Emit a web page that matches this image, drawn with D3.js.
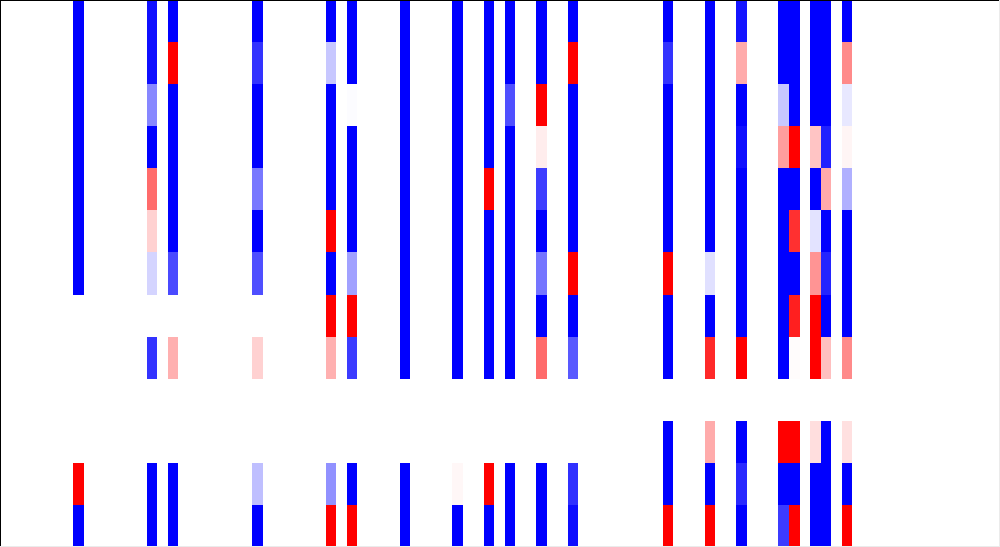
<!DOCTYPE html>
<html>
<head>
<meta charset="utf-8">
<script src="https://cdn.jsdelivr.net/npm/d3@7"></script>
<style>
  html, body { margin: 0; padding: 0; background: #fff; }
  svg { display: block; }
</style>
</head>
<body>
<svg id="chart" width="1000" height="547"></svg>
<script>
// Grid dimensions: 95 columns, 13 rows
const nCols = 95;
const nRows = 13;
// Column indices that hold data
const columnIndex = [7, 14, 16, 24, 31, 33, 38, 43, 46, 48, 51, 54, 63, 67, 70, 74, 75, 77, 78, 80];
const N = null;
// Row values (-1 = blue, 0 = white, 1 = red), one entry per data column
const r00 = [-1, -0.94, -1, -1, -1, -1, -1, -1, -1, -1, -1, -1, -1, -1, -0.92, -1, -1, -1, -1, -1];
const r01 = [-1, -0.94, 1, -0.8, -0.22, -1, -1, -1, -1, -1, -1, 1, -0.8, -1, 0.33, -1, -1, -1, -1, 0.46];
const r02 = [-1, -0.47, -1, -1, -1, -0.01, -1, -1, -1, -0.69, 1, -1, -1, -1, -1, -0.22, -1, -1, -1, -0.09];
const r03 = [-1, -1, -1, -1, -1, -1, -1, -1, -1, -1, 0.07, -1, -1, -1, -0.94, 0.38, 1, 0.23, -0.87, 0.04];
const r04 = [-1, 0.58, -1, -0.53, -1, -1, -1, -1, 1, -1, -0.76, -1, -1, -1, -1, -1, -1, -1, 0.33, -0.31];
const r05 = [-1, 0.18, -1, -1, 1, -1, -1, -1, -1, -1, -1, -1, -1, -1, -1, -1, 0.81, -0.11, -1, -1];
const r06 = [-1, -0.17, -0.71, -0.69, -1, -0.37, -1, -1, -1, -1, -0.54, 1, 1, -0.12, -1, -1, -1, 0.42, -0.86, -1];
const r07 = [N, N, N, N, 1, 1, -1, -1, -1, -1, -1, -1, -1, -1, -1, -1, 0.88, 1, -1, -1];
const r08 = [N, -0.8, 0.31, 0.18, 0.31, -0.77, -1, -1, -1, -1, 0.58, -0.65, -1, 0.84, 1, -1, 0.01, 1, 0.25, 0.46];
const r09 = [N, N, N, N, N, N, N, N, N, N, N, N, N, N, N, N, N, N, N, N];
const r10 = [N, N, N, N, N, N, N, N, N, N, N, N, -1, 0.33, -1, 1, 1, 0.13, -1, 0.12];
const r11 = [1, -1, -1, -0.25, -0.43, -1, -1, 0.03, 1, -1, -1, -0.81, -1, -1, -0.84, -1, -1, -1, -1, -1];
const r12 = [-1, -1, -1, -1, 1, 1, -1, -1, -1, -1, -1, -0.95, 1, 1, -1, -0.77, 1, -1, -1, 1];

const rowsData = [r00, r01, r02, r03, r04, r05, r06, r07, r08, r09, r10, r11, r12];

const cells = [];
rowsData.forEach((row, ri) => {
  row.forEach((v, ci) => {
    if (v !== null) cells.push({ row: ri, col: columnIndex[ci], value: v });
  });
});

const W = 1000, H = 547;
const svg = d3.select("#chart");

const x = d3.scaleLinear().domain([0, nCols]).range([0, W]);
const y = d3.scaleLinear().domain([0, nRows]).range([0, H]);
const color = d3.scaleLinear()
  .domain([-1, 0, 1])
  .range(["#0000ff", "#ffffff", "#ff0000"])
  .clamp(true);

svg.append("g")
  .selectAll("rect")
  .data(cells)
  .join("rect")
  .attr("x", d => Math.floor(x(d.col)))
  .attr("y", d => Math.round(y(d.row)))
  .attr("width", d => Math.floor(x(d.col + 1)) - Math.floor(x(d.col)))
  .attr("height", d => Math.round(y(d.row + 1)) - Math.round(y(d.row)))
  .attr("fill", d => color(d.value))
  .attr("shape-rendering", "crispEdges");

// frame
svg.append("line").attr("x1", 0).attr("x2", W).attr("y1", 0.5).attr("y2", 0.5)
  .attr("stroke", "#000").attr("stroke-width", 1).attr("shape-rendering", "crispEdges");
svg.append("line").attr("x1", 0.5).attr("x2", 0.5).attr("y1", 0).attr("y2", H)
  .attr("stroke", "#000").attr("stroke-width", 1).attr("shape-rendering", "crispEdges");
svg.append("line").attr("x1", 0).attr("x2", W).attr("y1", H - 0.5).attr("y2", H - 0.5)
  .attr("stroke", "#ebebeb").attr("stroke-width", 1).attr("shape-rendering", "crispEdges");
svg.append("line").attr("x1", W - 0.5).attr("x2", W - 0.5).attr("y1", 0).attr("y2", H)
  .attr("stroke", "#ebebeb").attr("stroke-width", 1).attr("shape-rendering", "crispEdges");
</script>
</body>
</html>
